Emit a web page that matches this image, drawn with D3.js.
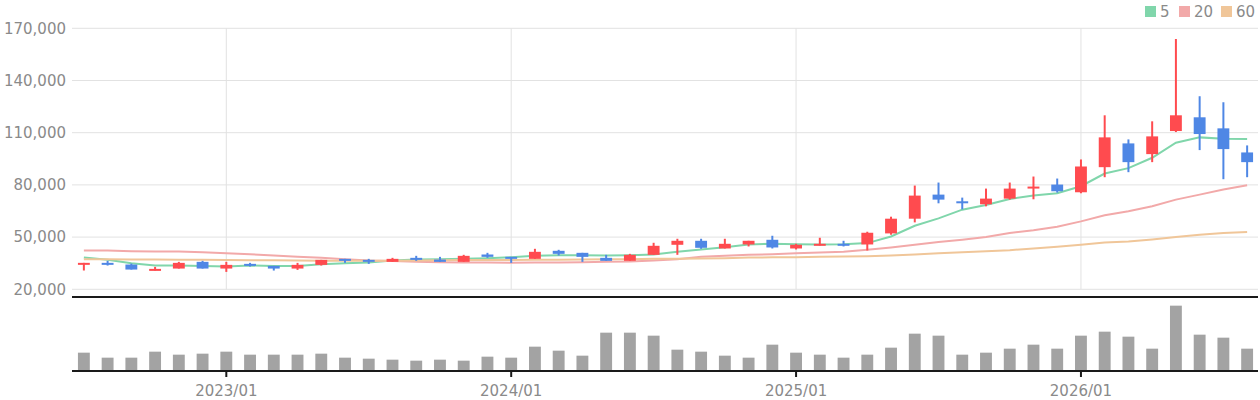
<!DOCTYPE html>
<html>
<head>
<meta charset="utf-8">
<script src="https://cdn.jsdelivr.net/npm/d3@7"></script>
<style>
  html, body { margin: 0; padding: 0; background: #fff; }
  svg { display: block; font-family: "DejaVu Sans", sans-serif; }
</style>
</head>
<body>
<svg id="chart" width="1260" height="400"></svg>
<script>
// ---- data ----
const months = [];
for (let y = 2022, m = 7; months.length < 50; ) {
  months.push(y + "/" + String(m).padStart(2, "0"));
  m++; if (m > 12) { m = 1; y++; }
}
const openV  = [34200,35200,34230,30770,31920,35770,31920,34620,33460,31920,34040,37500,36920,35770,38080,37120,35770,40000,38650,37500,42120,40960,38080,36350,39810,45580,47880,43460,45770,48460,43460,45190,46150,45770,52120,60580,74420,70580,68850,72120,78270,80190,75770,90190,103850,97690,110960,118850,112500,98650];
const highV  = [35200,36350,34800,32880,35770,36350,35770,35190,33460,35190,36920,37500,37500,38080,39230,38650,39810,40960,38650,43270,42690,40960,39810,40380,46730,49040,49040,49040,47880,50770,46150,49620,47880,53080,61730,79620,81350,72690,77880,81350,84810,83650,94620,120000,106150,116540,163850,130960,127500,102690];
const lowV   = [30800,33650,31350,30770,31920,31920,30000,33080,30770,31150,33650,35190,34620,35770,36350,35770,35770,38080,35190,37500,39420,35770,36350,36350,39810,39810,43270,43460,44620,43460,42880,45190,44620,42310,51350,58460,69420,65960,67690,71540,71730,75580,75190,84420,87310,93080,110380,100000,83270,84420];
const closeV = [35200,34200,31350,31730,35190,31920,34040,33650,31920,34040,36920,36540,35770,37500,36920,35770,39230,38650,37500,41540,40380,38650,36350,39810,45000,47880,43850,46150,47880,44040,45580,46150,45190,52500,60580,73850,71540,69620,72120,77880,79040,76350,90580,107310,93080,107880,120000,109230,100580,93080];
const volumeV = [550000,400000,400000,580000,490000,520000,580000,490000,490000,490000,520000,400000,370000,340000,310000,340000,310000,430000,400000,730000,610000,460000,1150000,1150000,1060000,640000,580000,460000,400000,790000,550000,490000,400000,490000,700000,1120000,1060000,490000,550000,670000,790000,670000,1060000,1180000,1030000,670000,1960000,1090000,1000000,670000];
const ma5  = [38270,36920,35000,33650,33650,33460,33080,33650,33460,33460,34420,35000,35380,36500,37120,37310,37500,37880,38460,39230,39620,39620,39420,39620,40000,41540,42900,44230,45770,46150,45960,45770,45960,46540,50380,56540,60770,65770,68460,71920,73900,75190,79230,86540,89620,95580,104230,107310,106540,106350];
const ma20 = [42310,42310,41920,41730,41730,41350,40770,40190,39420,38650,38080,37310,36540,36200,35770,35580,35380,35380,35190,35380,35380,35580,35770,35960,36540,37310,38650,39300,39810,40190,40770,41150,41540,42690,44040,45580,47120,48460,50000,52310,53900,55960,59040,62500,64810,67690,71540,74420,77310,79810];
const ma60 = [37310,37200,37120,37120,37000,36920,36850,36730,36650,36540,36450,36400,36380,36400,36540,36730,36800,36850,36900,36920,37000,37100,37200,37310,37500,37600,37690,37880,38270,38350,38460,38650,38850,39040,39420,40000,40770,41350,41920,42500,43450,44420,45580,46920,47500,48650,50000,51350,52310,52880];
const priceTicks = [20000,50000,80000,110000,140000,170000];
const yearTicks = ["2023/01","2024/01","2025/01","2026/01"];
const maNames = ["5","20","60"];
const maColors = ["#80d6ab","#f2a9a9","#f0c699"];
const upColor = "#ff4b4f", downColor = "#4f87e5";

// ---- layout ----
const svg = d3.select("#chart");
const left = 72, right = 1259;
const x = d3.scaleBand().domain(months).range([left, right]).paddingInner(0.5).paddingOuter(0.25);
const cx = d => x(d) + x.bandwidth() / 2;
const y = d3.scaleLinear().domain([20000, 170000]).range([289.3, 28.3]);
const yv = d3.scaleLinear().domain([0, 2220000]).range([371, 297]);
const textColor = "#8a8a8a";

// grid
svg.append("g").selectAll("line").data(priceTicks).join("line")
  .attr("x1", left).attr("x2", 1258)
  .attr("y1", d => y(d)).attr("y2", d => y(d))
  .attr("stroke", "#e2e2e2").attr("stroke-width", 1);
svg.append("g").selectAll("line").data(yearTicks).join("line")
  .attr("x1", d => cx(d)).attr("x2", d => cx(d))
  .attr("y1", y(170000)).attr("y2", y(20000))
  .attr("stroke", "#e2e2e2").attr("stroke-width", 1);

// y axis
const yAxis = svg.append("g").attr("transform", `translate(${left},0)`)
  .call(d3.axisLeft(y).tickValues(priceTicks).tickFormat(d3.format(",")).tickSize(0).tickPadding(6));
yAxis.select(".domain").remove();
yAxis.selectAll("text").attr("fill", textColor).attr("font-size", 15)
  .attr("font-family", "DejaVu Sans, sans-serif");

// MA lines
const series = [ma5, ma20, ma60];
series.forEach((s, i) => {
  svg.append("path")
    .datum(s)
    .attr("fill", "none")
    .attr("stroke", maColors[i])
    .attr("stroke-width", 2)
    .attr("d", d3.line().x((d, j) => cx(months[j])).y(d => y(d)));
});

// candles
const candles = svg.append("g").selectAll("g").data(months).join("g");
candles.append("line")
  .attr("x1", d => cx(d)).attr("x2", d => cx(d))
  .attr("y1", (d, i) => y(highV[i])).attr("y2", (d, i) => y(lowV[i]))
  .attr("stroke", (d, i) => closeV[i] >= openV[i] ? upColor : downColor)
  .attr("stroke-width", 2);
candles.append("rect")
  .attr("x", d => x(d)).attr("width", x.bandwidth())
  .attr("y", (d, i) => y(Math.max(openV[i], closeV[i])))
  .attr("height", (d, i) => Math.max(2, Math.abs(y(openV[i]) - y(closeV[i]))))
  .attr("fill", (d, i) => closeV[i] >= openV[i] ? upColor : downColor);

// main bottom line
svg.append("line").attr("x1", left).attr("x2", 1258).attr("y1", 297).attr("y2", 297)
  .attr("stroke", "#1a1a1a").attr("stroke-width", 2);

// volume bars
svg.append("g").selectAll("rect").data(months).join("rect")
  .attr("x", d => x(d)).attr("width", x.bandwidth())
  .attr("y", (d, i) => yv(volumeV[i]))
  .attr("height", (d, i) => yv(0) - yv(volumeV[i]))
  .attr("fill", "#a3a3a3");

// x axis
const xAxis = svg.append("g").attr("transform", "translate(0,371)")
  .call(d3.axisBottom(x).tickValues(yearTicks).tickSize(6).tickSizeOuter(0));
xAxis.select(".domain").attr("stroke", "#1a1a1a").attr("stroke-width", 2)
  .attr("d", `M${left},0H1258`);
xAxis.selectAll(".tick line").attr("stroke", "#1a1a1a").attr("stroke-width", 2);
xAxis.selectAll("text").attr("fill", textColor).attr("font-size", 15)
  .attr("font-family", "DejaVu Sans, sans-serif").attr("y", 25).attr("dy", 0);

// legend
const legendX = [1145, 1179, 1221];
const lg = svg.append("g").selectAll("g").data(maNames).join("g")
  .attr("transform", (d, i) => `translate(${legendX[i]},0)`);
lg.append("rect").attr("x", 0).attr("y", 6).attr("width", 11).attr("height", 11)
  .attr("fill", (d, i) => maColors[i]);
lg.append("text").attr("x", 15).attr("y", 17).text(d => d)
  .attr("fill", textColor).attr("font-size", 15);
</script>
</body>
</html>
